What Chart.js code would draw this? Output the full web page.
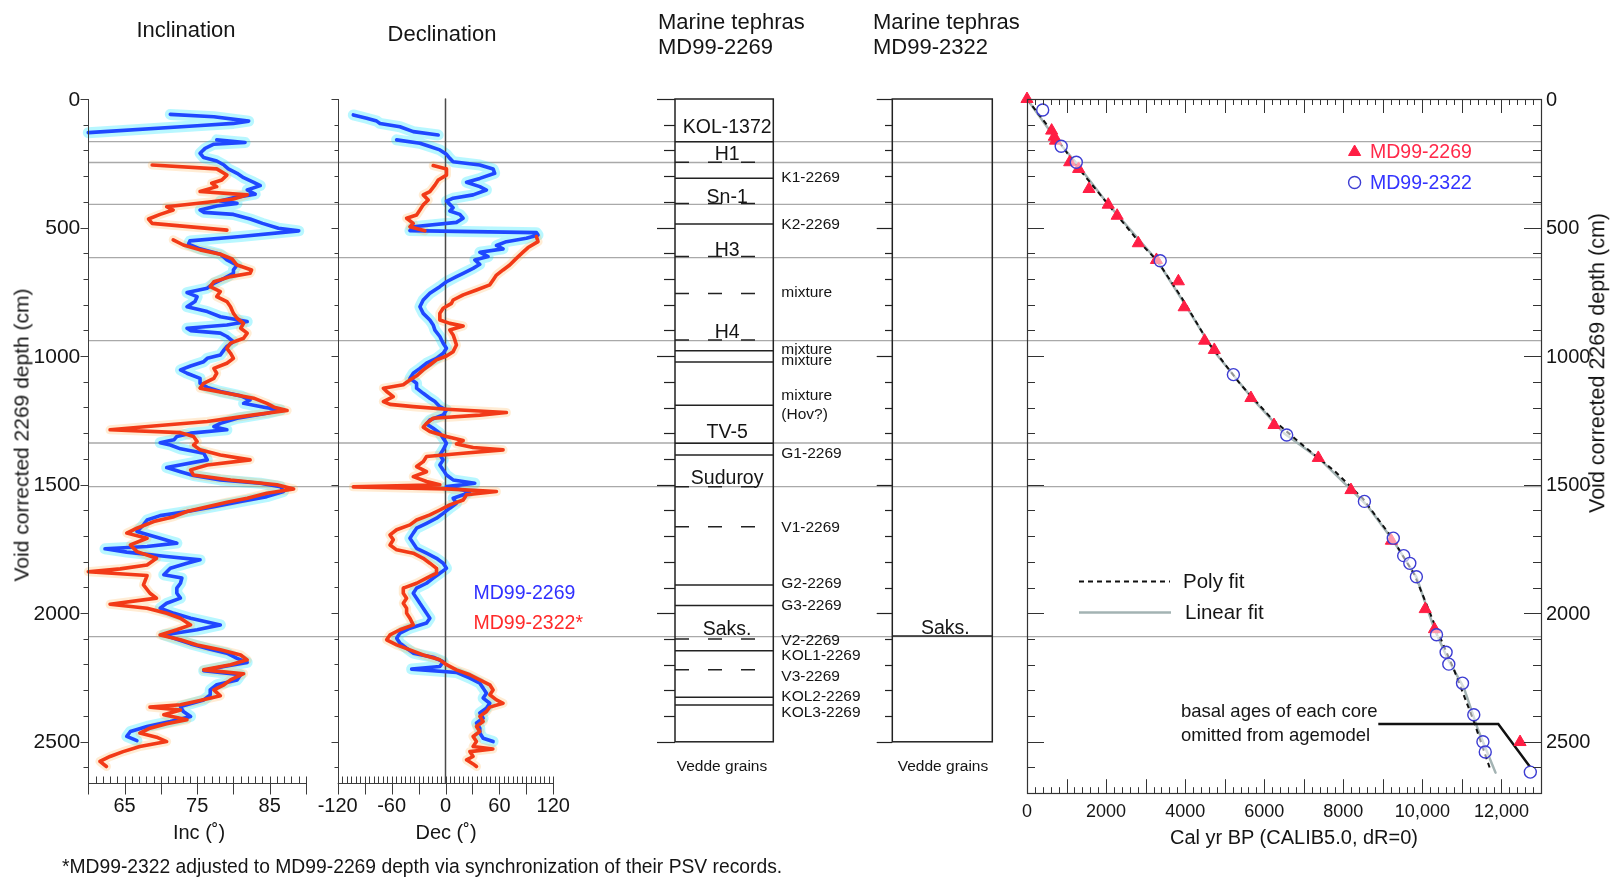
<!DOCTYPE html>
<html><head><meta charset="utf-8">
<script src="https://cdn.jsdelivr.net/npm/chart.js@4.4.1/dist/chart.umd.min.js"></script>
<style>
html,body{margin:0;padding:0;background:#fff;width:1614px;height:877px;overflow:hidden;}
canvas{position:absolute;left:0;top:0;}
.t{position:absolute;font-family:"Liberation Sans",Arial,Helvetica,sans-serif;color:#151515;white-space:nowrap;line-height:1;}
</style></head><body>
<canvas id="cBg" width="1614" height="877"></canvas>
<canvas id="cInc" width="1614" height="877"></canvas>
<canvas id="cDec" width="1614" height="877"></canvas>
<canvas id="cT1" width="1614" height="877"></canvas>
<canvas id="cT2" width="1614" height="877"></canvas>
<canvas id="cAge" width="1614" height="877"></canvas>
<script>
// ---------------- DATA ----------------
const depthTickLabels = [0, 500, 1000, 1500, 2000, 2500];
const incTickLabels = [65, 75, 85];
const decTickLabels = [-120, -60, 0, 60, 120];
const ageTickLabels = [0, 2000, 4000, 6000, 8000, 10000, 12000];
const greyLineDepths = [166, 247, 410, 617, 940, 1338, 1508, 2091];

// [depth cm, inclination deg]
const inc2269 = [[60,71.3],[69,77.3],[86,82.1],[95,80.0],[104,75.0],[131,60.0],null,
[159,77.7],[169,81.6],[176,77.3],[192,76.1],[211,75.4],[228,75.9],[241,77.7],[257,78.7],[272,79.3],[289,80.5],[306,81.4],[324,82.8],[337,83.7],[354,81.9],[370,83.0],[384,80.0],[397,78.2],[406,80.5],[416,77.7],[432,75.4],[441,75.9],[449,80.0],[467,82.3],[484,84.0],[503,86.2],[513,89.0],[535,81.0],[552,74.0],[565,73.8],[583,75.4],[604,78.2],[626,79.1],[646,80.5],[665,80.0],
[678,80.0],[698,78.7],[717,77.3],[736,76.4],[753,73.6],[769,75.0],[788,74.7],[808,73.6],[827,76.4],[847,78.2],[866,81.9],[879,79.1],[892,73.6],[901,74.1],[911,78.2],[924,79.1],[944,80.0],[963,79.1],[976,78.7],[996,78.2],[1009,76.4],[1022,75.9],[1039,74.1],[1054,72.7],[1067,73.6],[1087,75.4],[1106,75.4],[1122,76.4],[1138,78.2],[1155,81.0],[1171,82.3],[1184,81.4],[1199,84.2],[1210,86.5],[1223,84.6],[1242,80.5],[1262,78.2],[1275,77.3],[1287,79.1],[1300,74.1],[1313,72.2],[1326,71.8],[1337,69.9],
[1346,71.3],[1361,72.7],[1378,75.9],[1404,76.4],[1434,70.8],[1450,72.7],[1465,74.5],[1482,78.2],[1495,83.7],[1508,86.5],[1527,86.9],[1547,84.6],[1566,81.0],[1586,77.3],[1605,73.6],[1621,69.9],[1638,68.1],[1657,67.6],[1683,66.7],[1709,69.9],[1728,72.2],[1741,68.1],[1750,62.3],[1763,65.3],[1780,70.8],[1793,75.4],[1806,73.6],[1826,71.3],[1851,70.4],[1864,72.9],[1884,72.7],[1903,72.2],[1923,72.2],[1942,72.7],[1962,70.8],[1981,69.9],[2001,71.8],[2020,74.1],
[2046,78.2],[2065,75.0],[2085,70.4],[2102,72.2],[2120,74.1],[2141,76.8],[2156,79.1],[2176,80.5],[2192,81.9],[2208,78.7],[2224,75.9],[2240,81.0],[2260,80.5],[2279,77.7],[2299,76.8],[2318,76.8],[2338,75.9],[2364,72.7],[2383,73.1],[2402,74.1],[2422,71.3],[2441,68.1],[2461,65.8],[2480,65.3],[2496,66.7]];

const inc2322 = [[257,68.8],[272,77.7],[296,79.1],[315,78.4],[328,77.0],[341,77.7],[360,75.4],[373,81.9],[389,80.0],[402,76.4],[419,70.8],[432,71.7],[449,69.9],[467,68.3],[484,68.8],[510,79.1],null,
[548,71.7],[568,73.1],[587,75.4],[604,78.2],[622,79.8],[646,80.5],[665,82.5],[678,82.3],[691,79.6],[711,77.3],[730,76.8],[749,78.2],[769,77.7],[788,79.1],[808,79.6],[834,80.0],[853,80.5],[873,81.4],[892,81.0],[911,81.9],[931,81.4],[950,79.6],[970,79.1],[989,79.6],[1009,80.0],[1028,79.1],[1048,77.3],[1067,77.7],[1087,77.3],[1106,75.9],[1125,75.4],[1145,79.1],[1164,82.8],[1184,84.6],[1199,85.6],[1212,87.4],[1229,82.8],[1255,76.4],[1272,69.0],[1287,63.0],[1298,72.7],[1313,74.5],[1333,75.0],
[1346,74.5],[1365,75.4],[1385,78.2],[1404,82.3],[1424,76.4],[1443,74.1],[1463,74.5],[1482,79.6],[1501,86.0],[1517,88.3],[1534,84.6],[1553,81.9],[1569,79.1],[1586,76.4],[1605,73.6],[1625,71.8],[1644,69.0],[1670,66.7],[1689,65.3],[1709,68.1],[1735,65.8],[1761,66.7],[1787,69.4],[1813,68.1],[1828,64.4],[1839,60.0],[1854,68.1],[1890,67.6],[1923,68.5],[1942,69.4],[1966,63.0],[1981,68.1],[2001,70.8],[2020,72.7],
[2046,74.1],[2065,72.2],[2085,69.9],[2104,72.7],[2124,75.0],[2143,78.2],[2163,81.0],[2182,81.9],[2201,79.6],[2221,75.9],[2236,81.4],[2260,79.6],[2279,78.7],[2299,77.3],[2322,78.2],[2340,75.4],[2357,72.7],[2366,68.5],[2377,72.7],[2396,70.4],[2415,73.6],[2431,70.8],[2448,68.5],[2467,67.1],[2483,69.4],[2500,70.8],[2519,67.1],[2539,64.8],[2558,63.0],[2577,61.6],[2597,62.5]];

// [depth cm, declination deg]
const dec2269 = [[62,-102.6],[75,-87.8],[86,-76.6],[95,-72.9],[108,-50.7],[127,-35.9],[140,-8.1],null,
[159,-54.4],[172,-28.5],[185,-17.4],[198,-6.3],[215,1.1],[231,4.8],[244,8.5],[257,38.2],[272,53.0],[289,54.8],[309,38.2],[324,23.4],[341,38.2],[354,45.6],[373,30.7],[386,8.5],[397,1.1],[410,4.8],[423,8.5],[436,4.8],[449,15.9],[464,19.6],[480,12.2],[497,-35.9],[512,-39.6],[520,101.2],[529,103.0],[542,90.0],[555,67.8],[570,56.7],[583,64.1],[596,38.2],[613,47.4],[626,32.6],[643,38.2],[659,30.7],[678,19.7],[691,12.2],[711,1.1],[730,-6.3],[756,-17.4],[782,-24.8],[808,-28.5],[834,-24.8],[860,-17.4],[879,-13.7],[899,-11.8],[924,-6.3],[950,-2.6],[970,1.1],[989,-2.6],[1009,-10.0],[1028,-21.1],[1048,-28.5],[1067,-35.9],[1087,-39.6],[1106,-32.2],[1125,-32.2],[1145,-24.8],[1164,-17.4],[1177,-11.8],[1197,-6.3],[1210,1.1],[1229,-2.6],[1249,-17.4],[1264,-21.1],[1281,-13.7],[1300,-6.3],[1320,-2.6],[1339,1.1],
[1365,-2.6],[1385,-6.3],[1404,-2.6],[1424,-6.3],[1443,-2.6],[1463,1.1],[1482,8.5],[1495,32.6],[1508,1.1],[1527,27.1],[1540,19.7],[1553,8.5],[1573,12.2],[1592,4.8],[1612,-2.6],[1631,-10.0],[1651,-21.1],[1670,-32.2],[1689,-35.9],[1709,-39.6],[1728,-35.9],[1748,-32.2],[1767,-21.1],[1787,-10.0],[1806,-2.6],[1826,1.1],[1845,-6.3],[1864,-13.7],[1884,-21.1],[1903,-32.2],[1923,-35.9],[1942,-32.2],[1962,-28.5],[1981,-24.8],[2001,-21.1],[2020,-17.4],
[2039,-21.1],[2059,-39.6],[2078,-50.7],[2098,-54.4],[2117,-50.7],[2137,-43.3],[2156,-35.9],[2172,-13.7],[2189,-2.6],[2208,-6.3],[2218,-37.7],[2231,12.2],[2253,27.1],[2273,38.2],[2292,41.9],[2312,45.6],[2331,41.9],[2351,49.3],[2370,45.6],[2389,38.2],[2409,41.9],[2428,34.5],[2448,38.2],[2467,38.2],[2487,41.9],[2500,53.0]];

const dec2322 = [[259,-13.7],[272,1.1],[296,1.1],[315,-8.1],[335,-11.8],[360,-17.4],[373,-24.8],[393,-19.2],[412,-24.8],[432,-28.5],[451,-32.2],[464,-43.3],[484,-35.9],[497,-39.6],[513,-23.0],null,
[535,101.2],[555,103.0],[578,91.9],[596,86.3],[620,78.9],[646,71.5],[665,64.1],[685,56.7],[704,53.0],[723,49.3],[743,34.5],[762,19.7],[782,8.5],[795,6.7],[814,-2.6],[834,-6.3],[860,-6.3],[873,4.8],[883,19.7],[899,4.8],[918,8.5],[937,10.4],[957,12.2],[983,8.5],[1000,1.1],[1015,-10.0],[1035,-17.4],[1054,-24.8],[1077,-32.2],[1093,-39.6],[1112,-47.0],[1125,-69.2],[1138,-65.5],[1158,-58.1],[1177,-69.2],[1188,-61.8],[1197,-35.9],[1207,1.1],[1220,67.8],[1230,38.2],[1242,-13.7],[1262,-21.1],[1277,-24.8],[1294,-17.4],[1313,1.1],[1329,19.7],[1342,12.2],[1356,30.7],[1365,64.1],[1378,19.7],[1391,-21.1],[1411,-24.8],[1430,-32.2],[1450,-21.1],[1469,-35.9],[1488,-21.1],[1501,-6.3],[1509,-102.6],[1517,1.1],[1527,56.7],[1540,23.4],[1560,19.7],[1579,4.8],[1599,-6.3],[1618,-17.4],[1638,-32.2],[1657,-39.6],[1676,-54.4],[1696,-61.8],[1715,-58.1],[1735,-61.8],[1754,-54.4],[1767,-35.9],[1787,-24.8],[1806,-17.4],[1826,-10.0],[1845,-10.0],[1864,-21.1],[1884,-32.2],[1903,-47.0],[1923,-47.0],[1942,-43.3],[1962,-47.0],[1981,-43.3],[2001,-43.3],[2020,-39.6],[2046,-35.9],[2065,-50.7],[2085,-61.8],[2104,-65.5],[2124,-54.4],[2143,-39.6],[2163,-24.8],[2182,-6.3],[2201,1.1],[2221,12.2],[2240,27.1],[2260,38.2],[2279,49.3],[2299,53.0],[2318,49.3],[2338,56.7],[2351,64.1],[2366,49.3],[2383,45.6],[2402,38.2],[2422,41.9],[2441,34.5],[2461,38.2],[2480,30.7],[2500,34.5],[2519,30.7],[2529,52.7],[2539,27.1],[2558,30.7],[2571,23.4],[2587,30.7],[2597,34.5]];

// Tephra layers (depth cm)
const teph2269Solid = [166, 308, 486, 979, 1023, 1191, 1339, 1385, 1890, 1970, 2146, 2327, 2357];
const teph2269Dashed = [246, 406, 613, 756, 937, 1508, 1664, 2100, 2220];
const teph2269Names = ['KOL-1372','H1','Sn-1','H3','H4','TV-5','Suduroy','Saks.'];
const teph2269NameDepths = [134, 237, 404, 611, 928, 1320, 1499, 2085];
const teph2269Side = ['K1-2269','K2-2269','mixture','mixture','mixture','mixture','(Hov?)','G1-2269','V1-2269','G2-2269','G3-2269','V2-2269','KOL1-2269','V3-2269','KOL2-2269','KOL3-2269'];
const teph2269SideDepths = [305, 490, 753, 976, 1018, 1155, 1229, 1378, 1666, 1886, 1971, 2107, 2165, 2247, 2325, 2387];
const teph2322Solid = [2089];
const teph2322Names = ['Saks.'];
const teph2322NameDepths = [2079];

// Age model: [cal yr BP, depth cm]
const age2269 = [[0,0],[623,123],[690,147],[720,162],[1080,246],[1305,272],[1568,350],[2054,411],[2280,454],[2815,561],[3274,626],[3829,709],[3975,810],[4491,940],[4737,976],[5663,1163],[6247,1268],[7367,1396],[8193,1521],[9216,1718],[10071,1984],[10306,2062],[12470,2501]];
const age2322 = [[397,43],[865,184],[1247,246],[3369,629],[5220,1072],[6568,1307],[8534,1565],[9264,1708],[9527,1776],[9682,1806],[9848,1858],[10357,2084],[10600,2152],[10668,2198],[11015,2272],[11300,2395],[11531,2500],[11590,2540],[12730,2618]];
const linearFit = [[0,0],[700,150],[1250,250],[2000,400],[3300,630],[4000,800],[4700,975],[5700,1165],[6500,1300],[7400,1400],[8200,1520],[8600,1580],[9250,1715],[9850,1860],[10300,2060],[10650,2180],[11050,2290],[11400,2450],[11850,2620]];
const polyFit = [[0,0],[600,120],[1200,250],[2000,400],[2800,550],[3300,630],[3900,770],[4600,950],[5400,1110],[6200,1245],[7000,1350],[7800,1450],[8500,1555],[9200,1700],[9800,1850],[10300,2040],[10800,2220],[11300,2420],[11700,2600]];
const basalPointer = [[8885,2431],[11920,2431],[12720,2597]];

// ---------------- HELPERS ----------------
const FONT = '"Liberation Sans", Arial, Helvetica, sans-serif';
const W = 1614, H = 877;
const BLUE = '#1f48ff', RED = '#f23a17';

function pts(pairs, swap) { // swap: pairs are [depth, value] -> {x:value, y:depth}
  return pairs.map(p => p === null ? {x: null, y: null} : (swap ? {x: p[1], y: p[0]} : {x: p[0], y: p[1]}));
}
function lineDS(data, color, width, extra) {
  return Object.assign({data, showLine: true, borderColor: color, backgroundColor: color, borderWidth: width,
    pointRadius: 0, pointHoverRadius: 0, fill: false, spanGaps: false, clip: false, tension: 0,
    borderJoinStyle: 'round', borderCapStyle: 'round'}, extra || {});
}
function hRule(d, color, width, dash) {
  return lineDS([{x: 0, y: d}, {x: 1, y: d}], color, width, {borderDash: dash || [], borderCapStyle: 'butt'});
}
function px(v) { return Math.round(v) + 0.5; }
function seg(ctx, x1, y1, x2, y2) { ctx.beginPath(); ctx.moveTo(x1, y1); ctx.lineTo(x2, y2); ctx.stroke(); }

function makeChart(id, area, xr, yr, datasets, after, before) {
  return new Chart(document.getElementById(id), {
    type: 'scatter',
    data: {datasets},
    options: {
      responsive: false, animation: false, events: [],
      layout: {padding: {left: area[0], right: W - area[1], top: area[2], bottom: H - area[3]}},
      scales: {
        x: {type: 'linear', min: xr[0], max: xr[1], display: false},
        y: {type: 'linear', min: yr[0], max: yr[1], reverse: true, display: false}
      },
      plugins: {legend: {display: false}, tooltip: {enabled: false}, title: {display: false}}
    },
    plugins: [{id: 'deco',
      beforeDatasetsDraw(c) { if (before) before(c); },
      afterDatasetsDraw(c) { if (after) after(c); }}]
  });
}

// ---------------- BACKGROUND GREY RULES ----------------
makeChart('cBg', [88.3, 1541, 99, 793.2], [0, 1], [0, 2700],
  greyLineDepths.map(d => hRule(d, '#a9a9a9', 1.3)));

// ---------------- INCLINATION ----------------
makeChart('cInc', [88.3, 306, 99, 782.7], [60, 90], [0, 2660], [
  lineDS(pts(inc2322, true), RED, 3.6, {order: 0}),
  lineDS(pts(inc2269, true), BLUE, 3.6, {order: 1}),
  lineDS(pts(inc2322, true), 'rgba(255,170,60,0.22)', 9, {order: 2}),
  lineDS(pts(inc2269, true), 'rgba(0,225,255,0.28)', 11, {order: 3})
], c => {
  const ctx = c.ctx, a = c.chartArea, xs = c.scales.x, ys = c.scales.y;
  ctx.save(); ctx.strokeStyle = '#3c3c3c'; ctx.lineWidth = 1;
  const L = px(a.left), B = px(a.bottom);
  seg(ctx, L, a.top, L, a.bottom); seg(ctx, a.left, B, a.right, B);
  for (let d = 0; d <= 2600; d += 100) { const y = px(ys.getPixelForValue(d)); seg(ctx, L, y, L - (d % 500 === 0 ? 8 : 5), y); }
  for (let v = 60; v <= 90; v++) { const x = px(xs.getPixelForValue(v)); seg(ctx, x, B - 7, x, B + (v % 5 === 0 ? 11 : 0)); }
  ctx.fillStyle = '#151515'; ctx.font = '21px ' + FONT; ctx.textAlign = 'right'; ctx.textBaseline = 'middle';
  depthTickLabels.forEach(d => ctx.fillText(String(d), a.left - 8, ys.getPixelForValue(d) + 1));
  ctx.font = '20px ' + FONT; ctx.textAlign = 'center';
  incTickLabels.forEach(v => ctx.fillText(String(v), xs.getPixelForValue(v), a.bottom + 24));
  ctx.restore();
});

// ---------------- DECLINATION ----------------
makeChart('cDec', [337.7, 553.3, 99, 782.7], [-120, 120], [0, 2660], [
  lineDS(pts(dec2322, true), RED, 3.6, {order: 0}),
  lineDS(pts(dec2269, true), BLUE, 3.6, {order: 1}),
  lineDS([{x: 0, y: 0}, {x: 0, y: 2660}], '#4a4a4a', 1.5, {order: 2, borderCapStyle: 'butt'}),
  lineDS(pts(dec2322, true), 'rgba(255,170,60,0.22)', 9, {order: 3}),
  lineDS(pts(dec2269, true), 'rgba(0,225,255,0.28)', 11, {order: 4})
], c => {
  const ctx = c.ctx, a = c.chartArea, xs = c.scales.x, ys = c.scales.y;
  ctx.save(); ctx.strokeStyle = '#3c3c3c'; ctx.lineWidth = 1;
  const L = px(a.left), B = px(a.bottom);
  seg(ctx, L, a.top, L, a.bottom); seg(ctx, a.left, B, a.right, B);
  for (let d = 0; d <= 2600; d += 100) { const y = px(ys.getPixelForValue(d)); seg(ctx, L, y, L - (d % 500 === 0 ? 7 : 4), y); }
  for (let v = -120; v <= 120; v += 5) { const x = px(xs.getPixelForValue(v)); seg(ctx, x, B - 7, x, B + (v % 30 === 0 ? 11 : 0)); }
  ctx.fillStyle = '#151515'; ctx.font = '20px ' + FONT; ctx.textAlign = 'center'; ctx.textBaseline = 'middle';
  decTickLabels.forEach(v => ctx.fillText(String(v), xs.getPixelForValue(v), a.bottom + 24));
  ctx.restore();
});

// ---------------- TEPHRA COLUMNS ----------------
function tephDeco(majorLen, minorLen, names, nameDepths, side, sideDepths) {
  return c => {
    const ctx = c.ctx, a = c.chartArea, ys = c.scales.y;
    ctx.save(); ctx.strokeStyle = '#222'; ctx.lineWidth = 1.5;
    ctx.strokeRect(a.left, a.top, a.right - a.left, a.bottom - a.top);
    ctx.lineWidth = 1.2;
    for (let d = 0; d <= 2500; d += 100) { const y = px(ys.getPixelForValue(d)); seg(ctx, a.left, y, a.left - (d % 500 === 0 ? majorLen : minorLen), y); }
    ctx.fillStyle = '#151515'; ctx.font = '19.5px ' + FONT; ctx.textAlign = 'center'; ctx.textBaseline = 'alphabetic';
    const cx = (a.left + a.right) / 2 + 3;
    names.forEach((n, i) => ctx.fillText(n, cx, ys.getPixelForValue(nameDepths[i])));
    ctx.font = '15.5px ' + FONT; ctx.textAlign = 'left'; ctx.textBaseline = 'middle';
    side.forEach((n, i) => ctx.fillText(n, a.right + 8, ys.getPixelForValue(sideDepths[i])));
    ctx.restore();
  };
}
makeChart('cT1', [675, 773.3, 99, 741.8], [0, 1], [0, 2500], [
  ...teph2269Solid.map(d => hRule(d, '#222', 1.5)),
  ...teph2269Dashed.map(d => hRule(d, '#222', 1.5, [14, 19]))
], tephDeco(18, 11, teph2269Names, teph2269NameDepths, teph2269Side, teph2269SideDepths));
makeChart('cT2', [892.3, 992.3, 99, 741.8], [0, 1], [0, 2500], [
  ...teph2322Solid.map(d => hRule(d, '#222', 1.5))
], tephDeco(15.6, 7.3, teph2322Names, teph2322NameDepths, [], []));

// ---------------- AGE MODEL ----------------
makeChart('cAge', [1027, 1541, 99, 793.2], [0, 13000], [0, 2700], [
  {data: pts(age2322), pointStyle: 'circle', pointRadius: 6, pointBackgroundColor: 'rgba(255,255,255,0.55)', pointBorderColor: '#3c3cd2', pointBorderWidth: 1.4, showLine: false, clip: false, order: 0},
  {data: pts(age2269), pointStyle: 'triangle', pointRadius: 7, pointBackgroundColor: '#ff1e44', pointBorderColor: '#ff1e44', pointBorderWidth: 1, showLine: false, clip: false, order: 1},
  lineDS(pts(polyFit), '#111', 2, {borderDash: [5, 4], borderCapStyle: 'butt', order: 2}),
  lineDS(pts(linearFit), '#a3b3b3', 2.5, {order: 3}),
  lineDS(pts(basalPointer), '#111', 2.5, {order: 2, borderJoinStyle: 'miter', borderCapStyle: 'butt'})
], c => {
  const ctx = c.ctx, a = c.chartArea, xs = c.scales.x, ys = c.scales.y;
  ctx.save(); ctx.strokeStyle = '#333'; ctx.lineWidth = 1.2;
  ctx.strokeRect(px(a.left), px(a.top), Math.round(a.right - a.left), Math.round(a.bottom - a.top));
  ctx.lineWidth = 1;
  for (let t = 0; t <= 13000; t += 200) {
    const x = px(xs.getPixelForValue(t)), l = t % 1000 === 0 ? 14 : 6;
    seg(ctx, x, a.top, x, a.top + l); seg(ctx, x, a.bottom, x, a.bottom - l);
  }
  for (let d = 0; d <= 2700; d += 100) {
    const y = px(ys.getPixelForValue(d)), l = d % 500 === 0 ? 17 : 8;
    seg(ctx, a.left, y, a.left + l, y); seg(ctx, a.right, y, a.right - l, y);
  }
  ctx.fillStyle = '#151515'; ctx.font = '20px ' + FONT; ctx.textAlign = 'left'; ctx.textBaseline = 'middle';
  depthTickLabels.forEach(d => ctx.fillText(String(d), a.right + 5, ys.getPixelForValue(d) + 1));
  ctx.font = '18px ' + FONT; ctx.textAlign = 'center';
  ageTickLabels.forEach(v => ctx.fillText(v >= 10000 ? v.toLocaleString('en-US') : String(v), xs.getPixelForValue(v), a.bottom + 19));
  ctx.restore();
  // legend symbols
  ctx.save();
  ctx.fillStyle = '#ff1e44'; ctx.strokeStyle = '#ff1e44'; ctx.lineWidth = 1;
  Chart.helpers.drawPoint(ctx, {pointStyle: 'triangle', radius: 7, rotation: 0, borderWidth: 1}, 1354.6, 152);
  ctx.strokeStyle = '#3c3cd2'; ctx.lineWidth = 1.4;
  ctx.beginPath(); ctx.arc(1354.6, 182.5, 6, 0, Math.PI * 2); ctx.stroke();
  ctx.strokeStyle = '#111'; ctx.lineWidth = 2; ctx.setLineDash([5, 4]);
  seg(ctx, 1079, 581.5, 1170, 581.5);
  ctx.setLineDash([]); ctx.strokeStyle = '#a3b3b3'; ctx.lineWidth = 2.5;
  seg(ctx, 1079, 612.5, 1171, 612.5);
  ctx.restore();
});

// ---------------- FREE TEXT ----------------
function addText(str, x, y, size, opts) {
  opts = opts || {};
  const d = document.createElement('div');
  d.className = 't'; d.textContent = str;
  d.style.fontSize = size + 'px'; d.style.left = x + 'px'; d.style.top = y + 'px';
  if (opts.color) d.style.color = opts.color;
  const ax = opts.align === 'left' ? '0' : (opts.align === 'right' ? '-100%' : '-50%');
  d.style.transform = 'translate(' + ax + ',-50%)' + (opts.rot ? ' rotate(' + opts.rot + 'deg)' : '');
  document.body.appendChild(d);
}
addText('Inclination', 186, 30, 22);
addText('Declination', 442, 34, 22);
addText('Marine tephras', 658, 21.5, 22, {align: 'left'});
addText('MD99-2269', 658, 46.5, 22, {align: 'left'});
addText('Marine tephras', 873, 21.5, 22, {align: 'left'});
addText('MD99-2322', 873, 46.5, 22, {align: 'left'});
addText('Void corrected 2269 depth (cm)', 21, 435, 21, {rot: -90});
addText('Void corrected 2269 depth (cm)', 1598, 363, 21.5, {rot: -90});
addText('Inc (\u02DA)', 199, 832, 20);
addText('Dec (\u02DA)', 446, 832, 20);
addText('MD99-2269', 473.5, 593, 19.5, {align: 'left', color: '#3030ff'});
addText('MD99-2322*', 473.5, 623, 19.5, {align: 'left', color: '#ff2a2a'});
addText('Vedde grains', 722, 766, 15.5);
addText('Vedde grains', 943, 766, 15.5);
addText('MD99-2269', 1370, 152, 19.5, {align: 'left', color: '#ff2a4a'});
addText('MD99-2322', 1370, 183, 19.5, {align: 'left', color: '#3434ff'});
addText('Poly fit', 1183, 581, 20.5, {align: 'left'});
addText('Linear fit', 1185, 612, 20.5, {align: 'left'});
addText('basal ages of each core', 1181, 711, 18.5, {align: 'left'});
addText('omitted from agemodel', 1181, 735, 18.5, {align: 'left'});
addText('Cal yr BP (CALIB5.0, dR=0)', 1294, 837, 20);
addText('*MD99-2322 adjusted to MD99-2269 depth via synchronization of their PSV records.', 62, 867, 19.3, {align: 'left'});
</script>
</body></html>
